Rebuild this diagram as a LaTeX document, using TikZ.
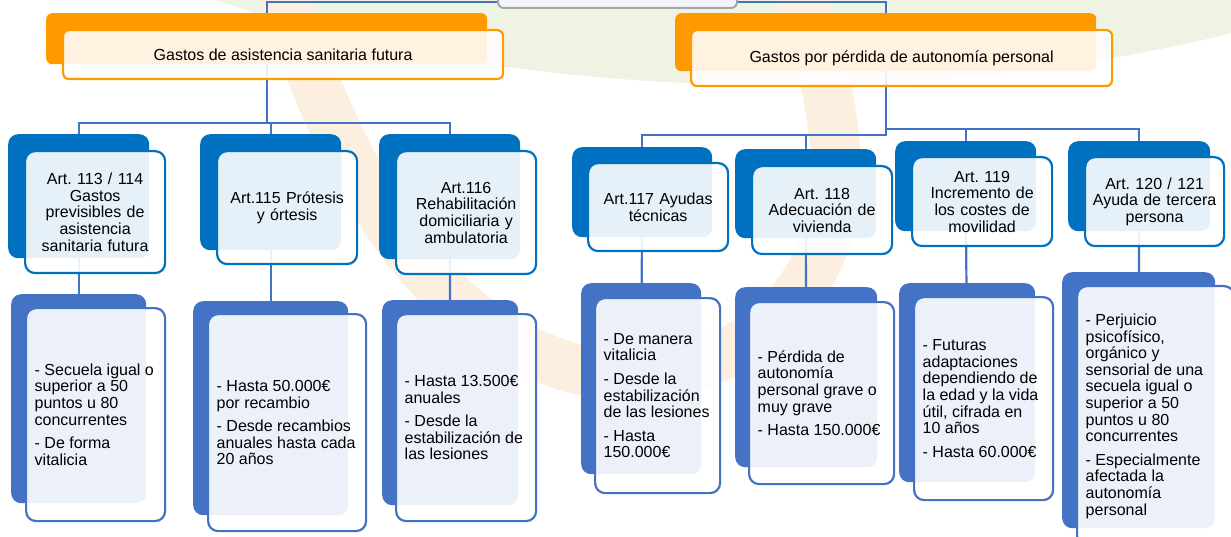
\documentclass[tikz,border=0pt]{standalone}
\usepackage{fontspec}
\setmainfont{Liberation Sans}
\frenchspacing
\definecolor{topblue}{HTML}{0070C0}
\definecolor{detblue}{HTML}{4472C4}
\definecolor{connc}{HTML}{4472C4}
\definecolor{orng}{HTML}{FF9900}
\definecolor{wmgreen}{HTML}{EEF3E3}
\definecolor{wmorange}{HTML}{FDEFDF}
\definecolor{rootgray}{HTML}{A6A6A6}
\definecolor{rootfill}{HTML}{F3F5FA}
\pgfdeclarelayer{wm}
\pgfdeclarelayer{lines}
\pgfsetlayers{wm,lines,main}
\tikzset{
  txt/.style={font=\fontsize{16}{16.6}\selectfont},
  conn/.style={draw=connc, line width=2.2pt},
  backT/.style={fill=topblue, rounded corners=10pt, anchor=north west, inner sep=0pt},
  backD/.style={fill=detblue, rounded corners=10pt, anchor=north west, inner sep=0pt},
  backO/.style={fill=orng, rounded corners=6pt, anchor=north west, inner sep=0pt},
  frontT/.style={draw=topblue, line width=2.2pt, fill=white, fill opacity=0.9, text opacity=1,
    rounded corners=10pt, anchor=north west, align=center, inner xsep=0pt, inner ysep=0pt, txt},
  frontD/.style={draw=detblue, line width=2.2pt, fill=white, fill opacity=0.9,
    rounded corners=10pt, anchor=north west, inner sep=0pt},
  dtext/.style={anchor=west, xshift=9.5pt, align=left, inner sep=0pt, txt},
  frontO/.style={draw=orng, line width=2.2pt, fill=white, fill opacity=0.88, text opacity=1,
    rounded corners=6pt, anchor=north west, align=center, inner sep=0pt, txt},
  rootbox/.style={draw=rootgray, line width=2pt, fill=rootfill, rounded corners=6pt,
    anchor=north west, inner sep=0pt}
}
\begin{document}
\begin{tikzpicture}[x=1pt,y=-1pt]
\useasboundingbox (0,0) rectangle (1231,537);
\begin{pgfonlayer}{wm}
\fill[white] (0,0) rectangle (1231,537);
\begin{scope}
\clip (0,0) rectangle (1231,537);
\fill[wmgreen] (780,-300) ellipse [x radius=900, y radius=385];
\draw[wmorange, line width=50pt] (280,-20) .. controls (330,150) and (420,330) .. (580,370)
  .. controls (720,400) and (850,300) .. (835,150) .. controls (830,80) and (810,20) .. (795,-20);
\end{scope}
\end{pgfonlayer}
% bus levels
\coordinate (busTop) at (0,2);
\coordinate (busL) at (0,123);
\coordinate (busR1) at (0,135);
\coordinate (busR2) at (0,129);
% root (partially visible)
\node[rootbox, minimum width=239pt, minimum height=37pt] (root) at (497,-30) {};
% orange boxes
\node[backO, minimum width=441pt, minimum height=51pt] (o1b) at (46,13) {};
\node[backO, minimum width=421pt, minimum height=58pt] (o2b) at (675,13) {};
\node[frontO, minimum width=440pt, minimum height=49pt] (o1) at (62,29) {Gastos de asistencia sanitaria futura};
\node[frontO, minimum width=421pt, minimum height=56pt] (o2) at (690,29) {Gastos por pérdida de autonomía personal};
% top row back boxes
\node[backT, minimum width=141pt, minimum height=124pt] (a113b) at (8,134) {};
\node[backT, minimum width=141pt, minimum height=116pt] (a115b) at (200,134) {};
\node[backT, minimum width=141pt, minimum height=125pt] (a116b) at (379,134) {};
\node[backT, minimum width=140pt, minimum height=90pt] (a117b) at (572,147) {};
\node[backT, minimum width=141pt, minimum height=89pt] (a118b) at (735,149) {};
\node[backT, minimum width=141pt, minimum height=90pt] (a119b) at (895,141) {};
\node[backT, minimum width=142pt, minimum height=90pt] (a120b) at (1068,141) {};
% top row front boxes
\node[frontT, minimum width=140pt, minimum height=122pt, text width=136pt] (a113) at (24,150) {Art. 113 / 114\\Gastos\\previsibles de\\asistencia\\sanitaria futura};
\node[frontT, minimum width=140pt, minimum height=113pt, text width=136pt] (a115) at (216,150) {Art.115 Prótesis\\y órtesis};
\node[frontT, minimum width=140pt, minimum height=123pt, text width=136pt] (a116) at (395,150) {Art.116\\Rehabilitación\\domiciliaria y\\ambulatoria};
\node[frontT, minimum width=140pt, minimum height=88pt, text width=136pt] (a117) at (587,162) {Art.117 Ayudas\\técnicas};
\node[frontT, minimum width=140pt, minimum height=88pt, text width=136pt] (a118) at (751,165) {Art. 118\\Adecuación de\\vivienda};
\node[frontT, minimum width=140pt, minimum height=89pt, text width=136pt] (a119) at (911,156) {Art. 119\\Incremento de\\los costes de\\movilidad};
\node[frontT, minimum width=139pt, minimum height=89pt, text width=135pt] (a120) at (1084,156) {Art. 120 / 121\\Ayuda de tercera\\persona};
% detail back boxes
\node[backD, minimum width=135pt, minimum height=209pt] (d113b) at (11,294) {};
\node[backD, minimum width=155pt, minimum height=214pt] (d115b) at (193,301) {};
\node[backD, minimum width=136pt, minimum height=205pt] (d116b) at (382,300) {};
\node[backD, minimum width=120pt, minimum height=191pt] (d117b) at (581,283) {};
\node[backD, minimum width=142pt, minimum height=180pt] (d118b) at (735,287) {};
\node[backD, minimum width=136pt, minimum height=199pt] (d119b) at (899,283) {};
\node[backD, minimum width=153pt, minimum height=256pt] (d120b) at (1062,272) {};
% detail front boxes
\node[frontD, minimum width=139pt, minimum height=213pt] (d113) at (25,307) {};
\node[frontD, minimum width=158pt, minimum height=217pt] (d115) at (207,313) {};
\node[frontD, minimum width=140pt, minimum height=207pt] (d116) at (395,313) {};
\node[frontD, minimum width=125pt, minimum height=195pt] (d117) at (594,297) {};
\node[frontD, minimum width=145pt, minimum height=182pt] (d118) at (748,301) {};
\node[frontD, minimum width=139pt, minimum height=203pt] (d119) at (913,296) {};
\node[frontD, minimum width=157pt, minimum height=260pt] (d120) at (1076,285) {};
% detail texts
\node[dtext] (t113) at (d113.west) {- Secuela igual o\\superior a 50\\puntos u 80\\concurrentes\\[7pt]- De forma\\vitalicia};
\node[dtext] (t115) at (d115.west) {- Hasta 50.000€\\por recambio\\[7pt]- Desde recambios\\anuales hasta cada\\20 años};
\node[dtext] (t116) at (d116.west) {- Hasta 13.500€\\anuales\\[7pt]- Desde la\\estabilización de\\las lesiones};
\node[dtext] (t117) at (d117.west) {- De manera\\vitalicia\\[7pt]- Desde la\\estabilización\\de las lesiones\\[7pt]- Hasta\\150.000€};
\node[dtext] (t118) at (d118.west) {- Pérdida de\\autonomía\\personal grave o\\muy grave\\[7pt]- Hasta 150.000€};
\node[dtext] (t119) at (d119.west) {- Futuras\\adaptaciones\\dependiendo de\\la edad y la vida\\útil, cifrada en\\10 años\\[7pt]- Hasta 60.000€};
\node[dtext] (t120) at (d120.west) {- Perjuicio\\psicofísico,\\orgánico y\\sensorial de una\\secuela igual o\\superior a 50\\puntos u 80\\concurrentes\\[7pt]- Especialmente\\afectada la\\autonomía\\personal};
% connectors (behind boxes)
\begin{pgfonlayer}{lines}
\draw[conn] (o1b.center) |- (root.center |- busTop) -| (o2b.center);
\draw[conn] (o1b.center) -- (o1b.center |- busL) -| (a113b.center);
\draw[conn] (o1b.center |- busL) -| (a115b.center);
\draw[conn] (o1b.center |- busL) -| (a116b.center);
\draw[conn] (o2b.center) -- (o2b.center |- busR1) -| (a117b.center);
\draw[conn] (o2b.center |- busR1) -| (a118b.center);
\draw[conn] (o2b.center |- busR2) -| (a119b.center);
\draw[conn] (o2b.center |- busR2) -| (a120b.center);
\draw[conn] (a113b.center) -- (d113b.center);
\draw[conn] (a115b.center) -- (d115b.center);
\draw[conn] (a116b.center) -- (d116b.center);
\draw[conn] (a117b.center) -- (d117b.center);
\draw[conn] (a118b.center) -- (d118b.center);
\draw[conn] (a119b.center) -- (d119b.center);
\draw[conn] (a120b.center) -- (d120b.center);
\end{pgfonlayer}
\end{tikzpicture}
\end{document}
